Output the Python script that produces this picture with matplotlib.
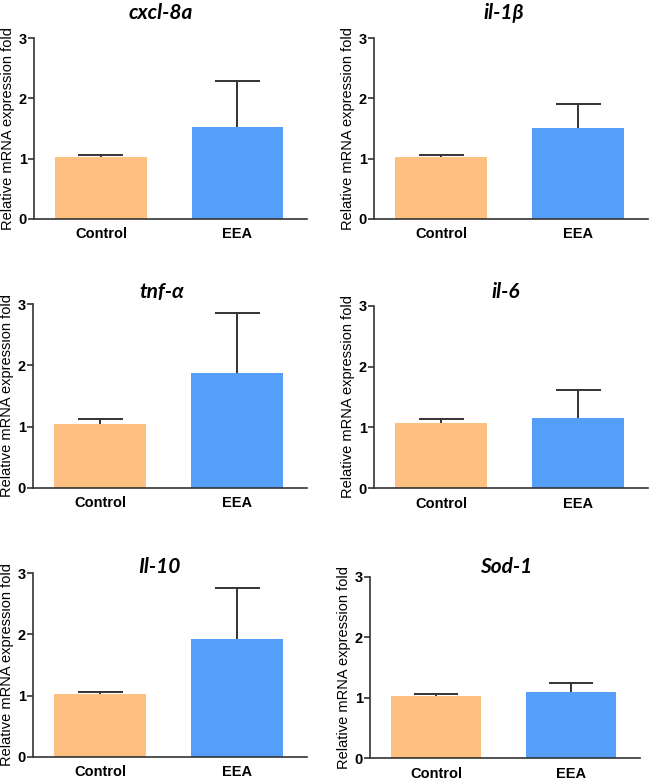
import matplotlib
matplotlib.use("Agg")
import matplotlib.pyplot as plt

genes = ["cxcl-8a", "il-1β", "tnf-α", "il-6", "Il-10", "Sod-1"]
groups = ["Control", "EEA"]
control_mean = [1.02, 1.03, 1.05, 1.07, 1.02, 1.03]
control_err = [0.04, 0.03, 0.07, 0.07, 0.04, 0.03]
eea_mean = [1.52, 1.51, 1.88, 1.16, 1.93, 1.09]
eea_err = [0.76, 0.40, 0.98, 0.45, 0.83, 0.15]
yticks = [0, 1, 2, 3]

W, H = 650, 781
fig = plt.figure(figsize=(W / 100, H / 100), dpi=100)

# axes boxes in pixels: left, right, top(y=3), bottom(y=0)
boxes = [
    (34, 307, 38, 219),
    (374, 648, 38, 219),
    (33, 307, 304.3, 487.7),
    (374, 648, 305.7, 488.3),
    (33, 307, 573.3, 756.7),
    (370, 640, 576.7, 758.3),
]
title_pos = [(161, 13), (504, 13), (162, 292), (506, 292), (159, 567), (506, 567)]

colors = ["#FDC081", "#559FFB"]
errc = "#333333"
tick_font = dict(family="Liberation Sans", weight="bold", size=10.5)

for i, g in enumerate(genes):
    l, r, t, b = boxes[i]
    ax = fig.add_axes([l / W, 1 - b / H, (r - l) / W, (b - t) / H])
    means = [control_mean[i], eea_mean[i]]
    errs = [control_err[i], eea_err[i]]
    xs = [0, 1]
    ax.bar(xs, means, width=0.67, color=colors, edgecolor="none", zorder=2)
    for x, m, e in zip(xs, means, errs):
        ax.vlines(x, m, m + e, color=errc, lw=1.4, zorder=3, clip_on=False)
        ax.hlines(m + e, x - 0.165, x + 0.165, color=errc, lw=1.4, zorder=3, clip_on=False)
    ax.set_xlim(-0.49, 1.51)
    ax.set_ylim(0, 3)
    ax.set_yticks(yticks)
    ax.set_yticklabels([str(v) for v in yticks], fontdict=tick_font)
    ax.set_xticks(xs)
    ax.set_xticklabels(groups, fontdict=tick_font)
    ax.tick_params(axis="x", length=0, pad=6)
    ax.tick_params(axis="y", length=4, width=1.2, pad=1, color="#333333")
    for s in ["top", "right"]:
        ax.spines[s].set_visible(False)
    for s in ["left", "bottom"]:
        ax.spines[s].set_linewidth(1.2)
        ax.spines[s].set_color("#333333")
    ax.set_ylabel("Relative mRNA expression fold", family="Liberation Sans",
                  size=10.5, labelpad=3)
    tx, ty = title_pos[i]
    fig.text(tx / W, 1 - ty / H, g, ha="center", va="center",
             family=["Lato", "DejaVu Sans"], weight="bold", style="italic", size=15)

fig.savefig("out.png", dpi=100)
